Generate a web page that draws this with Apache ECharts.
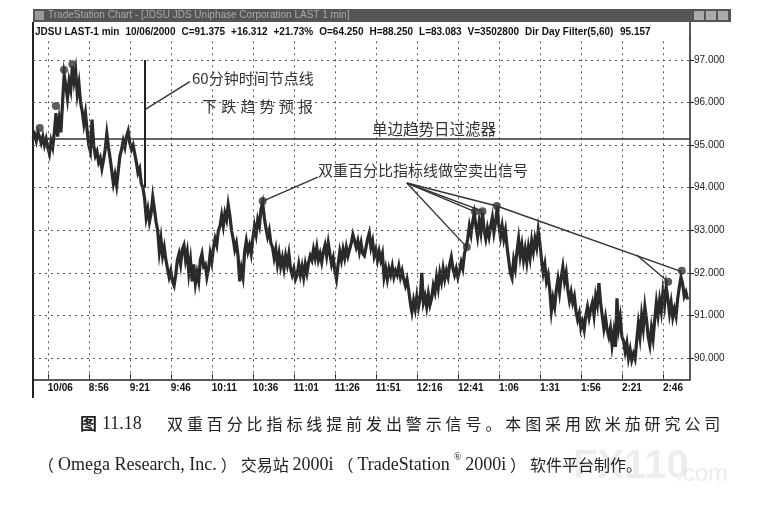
<!DOCTYPE html>
<html>
<head>
<meta charset="utf-8">
<script src="https://cdn.jsdelivr.net/npm/echarts@6/dist/echarts.min.js"></script>
<style>
html,body{margin:0;padding:0;background:#fff;}
#c{width:760px;height:517px;}
</style>
</head>
<body>
<div id="c"></div>
<script>
// ---- data ----
const timeTicks = [0,25,50,75,100,125,150,175,200,225,250,275,300,325,350,375]; // minutes after 8:31
const timeLabels = ['10/06','8:56','9:21','9:46','10:11','10:36','11:01','11:26','11:51','12:16','12:41','1:06','1:31','1:56','2:21','2:46'];
const priceTicks = [90,91,92,93,94,95,96,97];
const filterLevel = 95.157;
// [minute, price]
const bars = [
[-9,95.15],[-8,95.25],[-7,95.1],[-6,95.3],[-5,95.2],[-4,95.05],[-3,95.2],[-2,95.0],[-1,95.15],
[0,94.95],[1,94.8],[2,95.1],[3,94.95],[4,95.3],[5,95.75],[6,95.2],[7,95.6],[8,95.3],[9,96.0],
[10,96.65],[11,96.4],[12,96.1],[13,96.5],[14,96.3],[15,96.85],[16,96.5],[17,96.75],[18,96.2],[19,96.45],
[20,96.0],[21,95.8],[22,95.5],[23,95.75],[24,95.35],[25,95.0],[26,94.85],[27,95.6],[28,95.0],[29,94.75],
[30,94.85],[31,94.6],[32,94.7],[33,94.45],[34,94.65],[35,94.9],[36,95.27],[37,94.95],[38,94.7],[39,94.4],
[40,94.1],[41,94.3],[42,94.05],[43,94.4],[44,94.75],[45,94.9],[46,95.1],[47,94.95],[48,95.2],[49,95.33],
[50,95.05],[51,94.9],[52,95.0],[53,94.8],[54,94.6],[55,94.35],[56,94.45],[57,94.1],[58,94.0],[59,93.75],
[60,93.3],[61,93.5],[62,93.2],[63,93.4],[64,93.78],[65,93.5],[66,93.2],[67,93.0],[68,92.5],[69,92.8],
[70,92.4],[71,92.6],[72,92.3],[73,92.1],[74,91.9],[75,92.05],[76,91.8],[77,91.7],[78,91.95],[79,92.3],
[80,92.45],[81,92.2],[82,92.55],[83,92.65],[84,92.3],[85,92.5],[86,92.0],[87,92.3],[88,91.8],[89,92.2],
[90,91.75],[91,92.0],[92,91.8],[93,92.3],[94,92.45],[95,92.15],[96,92.2],[97,91.9],[98,92.1],[99,92.45],
[100,92.25],[101,92.6],[102,92.8],[103,92.65],[104,93.0],[105,93.1],[106,93.35],[107,93.1],[108,93.4],[109,93.25],
[110,93.6],[111,93.35],[112,93.0],[113,92.8],[114,92.55],[115,92.7],[116,92.4],[117,91.8],[118,92.1],[119,91.9],
[120,92.5],[121,92.75],[122,92.5],[123,92.65],[124,92.45],[125,92.8],[126,93.1],[127,92.9],[128,93.25],[129,93.1],
[130,93.5],[131,93.65],[132,93.3],[133,93.05],[134,92.85],[135,93.0],[136,92.7],[137,92.6],[138,92.35],[139,92.55],
[140,92.2],[141,92.45],[142,92.15],[143,92.35],[144,92.1],[145,92.4],[146,92.2],[147,92.45],[148,92.1],[149,91.95],
[150,92.1],[151,91.85],[152,91.95],[153,92.2],[154,91.95],[155,92.15],[156,91.9],[157,92.2],[158,92.0],[159,92.25],
[160,92.4],[161,92.3],[162,92.55],[163,92.35],[164,92.6],[165,92.3],[166,92.45],[167,92.25],[168,92.5],[169,92.65],
[170,92.4],[171,92.7],[172,92.45],[173,92.2],[174,92.35],[175,92.05],[176,91.85],[177,92.2],[178,92.5],[179,92.3],
[180,92.55],[181,92.35],[182,92.6],[183,92.4],[184,92.55],[185,92.7],[186,92.9],[187,92.75],[188,92.6],[189,92.75],
[190,92.5],[191,92.7],[192,92.45],[193,92.4],[194,92.6],[195,92.8],[196,92.94],[197,92.6],[198,92.75],[199,92.4],
[200,92.55],[201,92.3],[202,92.5],[203,92.3],[204,92.45],[205,91.9],[206,92.1],[207,91.85],[208,92.1],[209,91.95],
[210,92.15],[211,91.9],[212,92.05],[213,91.95],[214,92.15],[215,91.9],[216,92.05],[217,91.85],[218,91.7],[219,91.85],
[220,91.6],[221,91.3],[222,91.08],[223,91.35],[224,91.15],[225,91.45],[226,91.2],[227,91.4],[228,92.0],[229,91.3],
[230,91.45],[231,91.2],[232,91.5],[233,91.25],[234,91.4],[235,91.7],[236,91.55],[237,91.9],[238,91.65],[239,92.0],
[240,91.8],[241,92.1],[242,91.85],[243,92.05],[244,91.9],[245,92.2],[246,92.37],[247,92.1],[248,91.95],[249,92.1],
[250,91.9],[251,92.05],[252,92.25],[253,92.1],[254,92.45],[255,92.6],[256,92.8],[257,93.1],[258,92.9],[259,93.2],
[260,93.4],[261,93.1],[262,92.85],[263,93.2],[264,92.95],[265,93.42],[266,93.0],[267,92.8],[268,93.05],[269,92.85],
[270,93.1],[271,93.3],[272,92.95],[273,93.2],[274,93.55],[275,93.1],[276,92.85],[277,93.1],[278,92.8],[279,93.0],
[280,92.6],[281,92.3],[282,92.0],[283,91.88],[284,92.3],[285,92.1],[286,92.5],[287,92.8],[288,92.4],[289,92.65],
[290,92.3],[291,92.55],[292,92.25],[293,92.6],[294,92.35],[295,92.75],[296,92.5],[297,92.8],[298,92.6],[299,93.0],
[300,92.7],[301,92.3],[302,92.0],[303,92.2],[304,91.8],[305,91.95],[306,91.6],[307,91.1],[308,91.4],[309,91.2],
[310,91.6],[311,91.85],[312,91.55],[313,91.9],[314,92.14],[315,91.8],[316,92.0],[317,91.6],[318,91.35],[319,91.55],
[320,91.3],[321,91.45],[322,91.1],[323,90.9],[324,91.05],[325,90.7],[326,90.85],[327,90.66],[328,91.0],[329,91.2],
[330,90.95],[331,91.15],[332,91.3],[333,91.0],[334,91.45],[335,91.25],[336,91.76],[337,91.3],[338,91.0],[339,90.7],
[340,90.95],[341,90.66],[342,90.5],[343,90.7],[344,90.3],[345,90.6],[346,90.26],[347,91.4],[348,90.7],[349,90.95],
[350,90.5],[351,90.4],[352,90.15],[353,90.35],[354,90.0],[355,90.2],[356,89.95],[357,90.1],[358,89.98],[359,90.4],
[360,90.8],[361,90.5],[362,91.0],[363,90.7],[364,91.2],[365,90.9],[366,90.5],[367,90.3],[368,90.7],[369,90.45],
[370,90.9],[371,91.3],[372,91.0],[373,91.36],[374,91.1],[375,91.55],[376,91.25],[377,91.67],[378,91.4],[379,91.05],
[380,91.3],[381,90.96],[382,91.15],[383,90.98],[384,91.4],[385,91.67],[386,91.9],[387,91.75],[388,91.45],[389,91.55],
[390,91.375]
];
const signalDots = [[-4.9,95.40],[5,95.92],[9.9,96.77],[15,96.9],[131,93.69],[255.5,92.61],[260.4,93.44],[265,93.45],[273.7,93.57],[378.2,91.79],[386.5,92.05]];
const timeNodeLine = [[59,97.0],[59,94.0]];
const nodeLeader = [[59,95.83],[86.6,96.49]];
const signalLeaders = [
  [[131.5,93.69],[164.6,94.25]],
  [[218.9,94.11],[255.3,92.61]],
  [[218.9,94.11],[260.4,93.44]],
  [[218.9,94.11],[265,93.45]],
  [[218.9,94.11],[273.7,93.57]],
  [[273.7,93.57],[386.4,92.03]],
  [[359,92.42],[378.2,91.79]]
];
const headerLeft = ['JDSU LAST-1 min','10/06/2000','C=91.375','+16.312','+21.73%','O=64.250','H=88.250','L=83.083','V=3502800'];
const headerRight = [['Dir Day Filter(5,60)',525],['95.157',620]];

// ---- chart ----
const chart = echarts.init(document.getElementById('c'), null, {renderer:'canvas'});
const CJK = '"Noto Sans CJK SC", sans-serif';
const SANS = '"Liberation Sans", Arial, sans-serif';
const SERIF = '"Liberation Serif", "Times New Roman", serif';

const gridLines = [];
priceTicks.forEach(v => gridLines.push({yAxis: v}));
timeTicks.forEach(v => gridLines.push({xAxis: v}));

function spaced(str, x, y, pitch, font, color) {
  return Array.from(str).map((ch, i) => ({
    type:'text', left: x + i*pitch, top: y, silent:true,
    style:{text: ch, font: font, fill: color}
  }));
}
function txt(t, x, y, font, color) {
  return {type:'text', left:x, top:y, silent:true, style:{text:t, font:font, fill:color || '#222'}};
}
const mctx = document.createElement('canvas').getContext('2d');
function measure(t, font) { mctx.font = font; return mctx.measureText(t).width; }

// header layout: spread left items between x=35 and x=519
const headerFont = 'bold 10px ' + SANS;
const widths = headerLeft.map(t => measure(t, headerFont));
const totalW = widths.reduce((a,b)=>a+b,0);
const gap = (519 - 35 - totalW) / (headerLeft.length - 1);

// caption line 2: chained segments spread between x=38 and x=642
const C16 = '16px ' + CJK, S18 = '18px ' + SERIF, R10 = '10px ' + SERIF;
const cap2 = [['（',C16,0],['Omega Research, Inc.',S18,2],['）',C16,0],['交易站',C16,0],['2000i',S18,2],
              ['（',C16,0],['TradeStation',S18,2],['®',R10,-5],['2000i',S18,2],['）',C16,0],['软件平台制作。',C16,0]];
const cap2W = cap2.map(s => measure(s[0], s[1]));
const cap2Gap = (642 - 38 - cap2W.reduce((a,b)=>a+b,0)) / (cap2.length - 1);

const graphics = [
  // window title bar
  {type:'rect', shape:{x:33,y:9,width:698,height:13}, style:{fill:'#555'}, silent:true},
  {type:'rect', shape:{x:35,y:11,width:9,height:9}, style:{fill:'#999'}, silent:true},
  txt('TradeStation Chart - [JDSU JDS Uniphase Corporation LAST 1 min]', 48, 10, '10px '+SANS, '#aaa'),
  {type:'rect', shape:{x:694,y:11,width:10,height:9}, style:{fill:'#aaa'}, silent:true},
  {type:'rect', shape:{x:706,y:11,width:10,height:9}, style:{fill:'#aaa'}, silent:true},
  {type:'rect', shape:{x:718,y:11,width:10,height:9}, style:{fill:'#aaa'}, silent:true},
  // window frame lines
  {type:'line', shape:{x1:33,y1:22,x2:33,y2:398}, style:{stroke:'#222',lineWidth:2}, silent:true},
  {type:'line', shape:{x1:690,y1:22,x2:690,y2:39}, style:{stroke:'#222',lineWidth:1.5}, silent:true},
  // annotations
  txt('60分钟时间节点线', 192, 71, '15px '+CJK, '#333'),
  ...spaced('下跌趋势预报', 202, 99, 19.2, '15px '+CJK, '#333'),
  txt('单边趋势日过滤器', 372, 121, '15.5px '+CJK, '#333'),
  txt('双重百分比指标线做空卖出信号', 318, 163, '15px '+CJK, '#333'),
  // caption line 1
  txt('图', 80, 415, 'bold 17px '+CJK),
  txt('11.18', 102, 415, '18px '+SERIF),
  ...spaced('双重百分比指标线提前发出警示信号。本图采用欧米茄研究公司', 167, 416, 19.9, '16px '+CJK, '#222'),
  // watermark
  txt('FX110', 573, 447, 'bold 40px '+SANS, 'rgba(0,0,0,0.07)'),
  txt('.com', 676, 462, '24px '+SANS, 'rgba(0,0,0,0.08)')
];
let cx = 38;
cap2.forEach((s, i) => {
  const isSerif = s[1] === S18;
  graphics.push(txt(s[0], cx, 457 + (isSerif ? -1 : 0) + s[2] * (s[1] === R10 ? 1 : 0), s[1], '#222'));
  cx += cap2W[i] + cap2Gap;
});
let hx = 35;
headerLeft.forEach((t,i) => { graphics.push(txt(t, hx, 27, headerFont, '#111')); hx += widths[i] + gap; });
headerRight.forEach(([t,x]) => graphics.push(txt(t, x, 27, headerFont, '#111')));

const leaderData = signalLeaders.map(seg => [{coord: seg[0]}, {coord: seg[1]}]);

chart.setOption({
  animation:false,
  backgroundColor:'#fff',
  grid:{left:33, right:70, top:38.7, bottom:137.7, containLabel:false},
  xAxis:{
    type:'value', min:-9, max:391.5, position:'bottom',
    axisLine:{show:true, onZero:false, lineStyle:{color:'#222', width:1.5}},
    axisTick:{show:true, inside:true, length:5, customValues:timeTicks, lineStyle:{color:'#222'}},
    axisLabel:{customValues:timeTicks, align:'left', margin:4, fontSize:10, fontWeight:'bold', fontFamily:'Liberation Sans', color:'#111',
      formatter: v => { const i = timeTicks.indexOf(Math.round(v)); return i >= 0 ? timeLabels[i] : ''; }},
    splitLine:{show:false}
  },
  yAxis:{
    type:'value', min:89.5, max:97.5, position:'right',
    axisLine:{show:true, onZero:false, lineStyle:{color:'#222', width:1.5}},
    axisTick:{show:true, inside:false, length:4, customValues:priceTicks, lineStyle:{color:'#222'}},
    axisLabel:{customValues:priceTicks, margin:4, fontSize:10, fontFamily:'Liberation Sans', color:'#222',
      formatter: v => Number(v).toFixed(3)},
    splitLine:{show:false}
  },
  graphic: graphics,
  series:[
    {
      name:'grid', type:'line', data:[], z:1, silent:true,
      markLine:{
        silent:true, symbol:['none','none'], label:{show:false},
        lineStyle:{color:'#555', type:[2,4], width:1},
        data: gridLines
      }
    },
    {
      name:'filter', type:'line', data:[], z:2, silent:true,
      markLine:{
        silent:true, symbol:['none','none'], label:{show:false},
        lineStyle:{color:'#333', type:'solid', width:1.6},
        data:[{yAxis: filterLevel}]
      }
    },
    {
      name:'price', type:'line', data:bars, z:3, showSymbol:false, symbol:'none', silent:true,
      lineStyle:{color:'#2a2a2a', width:3.2, join:'miter'}
    },
    {
      name:'annot', type:'line', data:[], z:4, silent:true,
      markLine:{
        silent:true, symbol:['none','none'], label:{show:false},
        lineStyle:{color:'#333', type:'solid', width:1.4},
        data:[
          [{coord: timeNodeLine[0], lineStyle:{width:2, color:'#222'}}, {coord: timeNodeLine[1]}],
          [{coord: nodeLeader[0]}, {coord: nodeLeader[1]}],
          ...leaderData
        ]
      }
    },
    {
      name:'signals', type:'scatter', data:signalDots, z:5, symbolSize:8, silent:true,
      itemStyle:{color:'#333'}
    }
  ]
});
</script>
</body>
</html>
